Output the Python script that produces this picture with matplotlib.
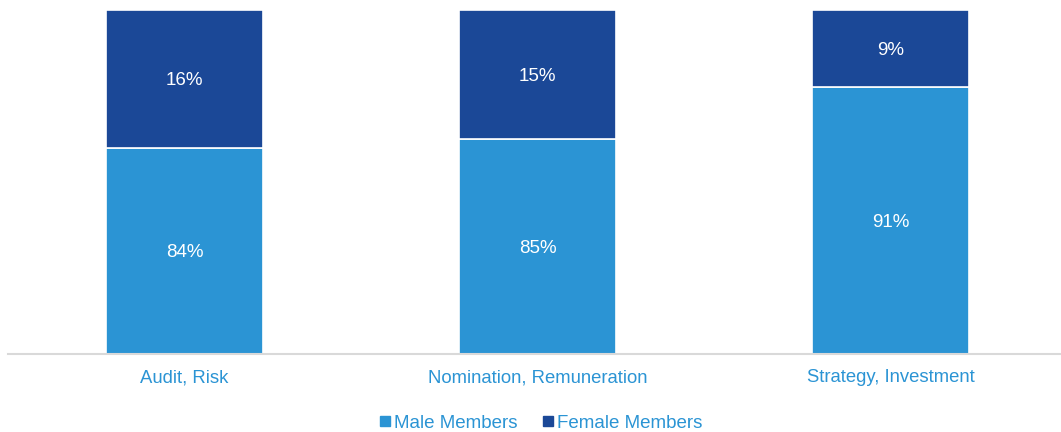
import numpy as np
import matplotlib
matplotlib.use("Agg")
import matplotlib.pyplot as plt
from matplotlib.lines import Line2D

plt.rcParams['font.family'] = ['Liberation Sans', 'DejaVu Sans']

categories = ['Audit, Risk', 'Nomination, Remuneration', 'Strategy, Investment']
male = [0.84, 0.85, 0.91]
female = [0.16, 0.15, 0.09]

male_color = '#2B94D4'
female_color = '#1B4897'
text_blue = '#2B94D4'

fig = plt.figure(figsize=(10.61, 4.32), dpi=100)
ax = fig.add_axes([8 / 1061, 1 - 354 / 432, 1059 / 1061, 344 / 432])

x = np.arange(len(categories))
w = 0.445
ax.bar(x, male, w, color=male_color, edgecolor='white', linewidth=1.2)
ax.bar(x, female, w, bottom=male, color=female_color, edgecolor='white', linewidth=1.2)

ymin, ymax = 0.6, 1.0
ax.set_ylim(ymin, ymax)
ax.set_xlim(-0.5, len(categories) - 0.5)

# value labels centred in the visible part of each segment
for i in range(len(categories)):
    m_lo, m_hi = max(0, ymin), male[i]
    ax.text(x[i], (m_lo + m_hi) / 2, f'{male[i] * 100:.0f}%', ha='center',
            va='center_baseline', color='white', fontsize=13.5)
    f_lo, f_hi = male[i], min(male[i] + female[i], ymax)
    ax.text(x[i], (f_lo + f_hi) / 2, f'{female[i] * 100:.0f}%', ha='center',
            va='center_baseline', color='white', fontsize=13.5)

ax.set_xticks(x)
ax.set_xticklabels(categories, color=text_blue, fontsize=13.3)
ax.tick_params(axis='x', length=0, pad=11)
ax.set_yticks([])
for s in ['top', 'left', 'right']:
    ax.spines[s].set_visible(False)
ax.spines['bottom'].set_color('#D9D9D9')
ax.spines['bottom'].set_linewidth(1.5)

handles = [Line2D([], [], marker='s', linestyle='none', color=male_color, markersize=7),
           Line2D([], [], marker='s', linestyle='none', color=female_color, markersize=7)]
leg = fig.legend(handles, ['Male Members', 'Female Members'], loc='center',
                 bbox_to_anchor=(0.509, 1 - 423 / 432), ncol=2, frameon=False,
                 fontsize=13.5, handletextpad=0.1, columnspacing=1.2, handlelength=0.8)
for t in leg.get_texts():
    t.set_color(text_blue)

fig.savefig('out.png', dpi=100)
